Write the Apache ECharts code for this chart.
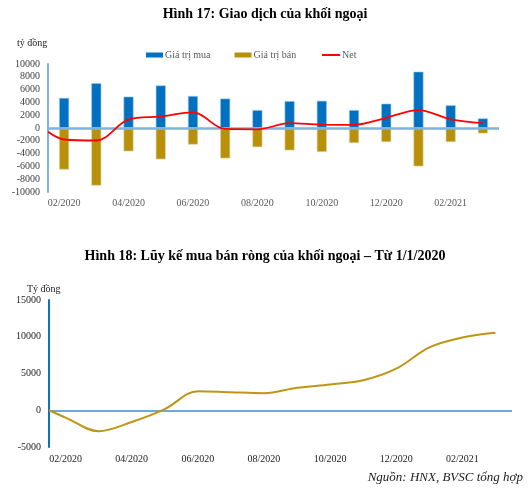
<!DOCTYPE html>
<html><head><meta charset="utf-8">
<script src="https://cdn.jsdelivr.net/npm/echarts@6/dist/echarts.min.js"></script>
<style>html,body{margin:0;padding:0;background:#fff}#c{width:530px;height:493px}</style>
</head><body><div id="c"></div>
<script>
// ---- data ----
const months = ['02/2020','03/2020','04/2020','05/2020','06/2020','07/2020','08/2020','09/2020','10/2020','11/2020','12/2020','01/2021','02/2021','03/2021'];
const buyValues = [4700, 7000, 4900, 6650, 5000, 4600, 2800, 4200, 4250, 2800, 3800, 8800, 3550, 1500];
const sellValues = [-6500, -9000, -3650, -4900, -2600, -4750, -3000, -3500, -3750, -2350, -2200, -6000, -2200, -850];
const netStart = -600;
const netValues = [-1800, -1950, 1300, 1800, 2450, -150, -200, 750, 520, 500, 1600, 2800, 1350, 750];
const cumStart = 0;
const cumValues = [-1000, -2850, -1600, 150, 2600, 2450, 2320, 3050, 3500, 4080, 5650, 8550, 9900, 10530];
const yTicksTop = [-10000, 10000, 2000];
const yTicksBottom = [-5000, 15000, 5000];

const serif = '"Liberation Serif","Times New Roman",serif';
const netData = [[-0.5, netStart]].concat(netValues.map((v, i) => [i, v]));
const cumData = [[-0.5, cumStart]].concat(cumValues.map((v, i) => [i, v]));
const plain = v => String(v);
const legendText = {fontFamily: serif, fontSize: 10, color: '#595959', padding: [0, 0, 0, -3]};

const chart = echarts.init(document.getElementById('c'), null, {renderer: 'canvas'});
chart.setOption({
  animation: false,
  backgroundColor: '#fff',
  title: [
    {text: 'Hình 17: Giao dịch của khối ngoại', left: 'center', top: 2,
     textStyle: {fontFamily: serif, fontSize: 14, fontWeight: 'bold', color: '#000'}},
    {text: 'tỷ đồng', left: 12, top: 33, textStyle: {fontFamily: serif, fontSize: 10, fontWeight: 'normal', color: '#222'}},
    {text: 'Hình 18: Lũy kế mua bán ròng của khối ngoại – Từ 1/1/2020', left: 'center', top: 244,
     textStyle: {fontFamily: serif, fontSize: 14, fontWeight: 'bold', color: '#000'}},
    {text: 'Tỷ đồng', left: 22, top: 279, textStyle: {fontFamily: serif, fontSize: 10, fontWeight: 'normal', color: '#222'}},
    {text: 'Nguồn: HNX, BVSC tổng hợp', right: 2, top: 466,
     textStyle: {fontFamily: serif, fontSize: 13, fontStyle: 'italic', fontWeight: 'normal', color: '#222'}}
  ],
  legend: [
    {left: 146, top: 50, padding: 0, itemWidth: 17, itemHeight: 5, itemGap: 24,
     itemStyle: {borderWidth: 0}, textStyle: legendText,
     data: [{name: 'Giá trị mua', icon: 'rect'}, {name: 'Giá trị bán', icon: 'rect'}]},
    {left: 322, top: 50, padding: 0, itemWidth: 18, itemHeight: 2,
     textStyle: legendText, data: [{name: 'Net', icon: 'rect'}]}
  ],
  grid: [
    {left: 48, right: 31, top: 64, height: 128, containLabel: false},
    {left: 49, right: 18, top: 300, height: 147, containLabel: false}
  ],
  xAxis: [
    {type: 'category', gridIndex: 0, data: months, boundaryGap: true,
     axisLine: {show: false}, axisTick: {show: false},
     axisLabel: {interval: 1, margin: 6, fontFamily: serif, fontSize: 10, color: '#595959'}},
    {type: 'value', gridIndex: 0, min: -0.5, max: months.length - 0.5, show: false},
    {type: 'category', gridIndex: 1, data: months, boundaryGap: true,
     axisLine: {show: false}, axisTick: {show: false},
     axisLabel: {interval: 1, margin: 7, fontFamily: serif, fontSize: 10, color: '#222'}},
    {type: 'value', gridIndex: 1, min: -0.5, max: months.length - 0.5, show: false}
  ],
  yAxis: [
    {type: 'value', gridIndex: 0, min: yTicksTop[0], max: yTicksTop[1], interval: yTicksTop[2],
     splitLine: {show: false}, axisTick: {show: false},
     axisLine: {show: true, onZero: false, lineStyle: {color: '#7fb2de', width: 2}},
     axisLabel: {margin: 8, fontFamily: serif, fontSize: 10, color: '#404040', formatter: plain}},
    {type: 'value', gridIndex: 1, min: yTicksBottom[0], max: yTicksBottom[1], interval: yTicksBottom[2],
     splitLine: {show: false}, axisTick: {show: false},
     axisLine: {show: true, onZero: false, lineStyle: {color: '#0a72c4', width: 2}},
     axisLabel: {margin: 8, fontFamily: serif, fontSize: 10, color: '#222', formatter: plain}}
  ],
  series: [
    {name: 'Giá trị mua', type: 'bar', xAxisIndex: 0, yAxisIndex: 0, stack: 's', barWidth: 10,
     itemStyle: {color: '#0070c0', borderColor: '#9fc6e8', borderWidth: 0.6}, data: buyValues,
     markLine: {silent: true, symbol: 'none', label: {show: false},
       lineStyle: {color: '#7fb2de', width: 2.5, type: 'solid'}, data: [{yAxis: 0}]}},
    {name: 'Giá trị bán', type: 'bar', xAxisIndex: 0, yAxisIndex: 0, stack: 's', barWidth: 10,
     itemStyle: {color: '#b8900a', borderColor: '#e6d9a6', borderWidth: 0.6}, data: sellValues},
    {name: 'Net', type: 'line', xAxisIndex: 1, yAxisIndex: 0, smooth: 0.35, symbol: 'none',
     lineStyle: {color: '#ff0000', width: 1.8}, itemStyle: {color: '#ff0000'}, data: netData, z: 5},
    {name: 'Lũy kế', type: 'line', xAxisIndex: 3, yAxisIndex: 1, smooth: 0.35, symbol: 'none',
     lineStyle: {color: '#bf9514', width: 2}, itemStyle: {color: '#bf9514'}, data: cumData, z: 5,
     markLine: {silent: true, symbol: 'none', label: {show: false},
       lineStyle: {color: '#6fa8dc', width: 2, type: 'solid'}, data: [{yAxis: 0}]}}
  ]
});
</script></body></html>
